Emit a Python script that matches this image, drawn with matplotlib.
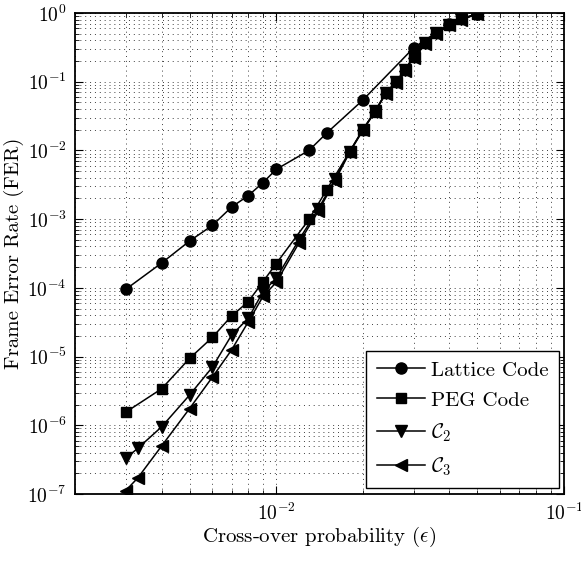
import matplotlib
matplotlib.use("Agg")
import matplotlib.pyplot as plt
from matplotlib.ticker import LogLocator, NullFormatter

plt.rcParams['font.family'] = 'serif'
plt.rcParams['font.serif'] = ['cmr10', 'DejaVu Serif']
plt.rcParams['mathtext.fontset'] = 'cm'
plt.rcParams['axes.formatter.use_mathtext'] = True

# ---- data ----
x_lattice = [3e-3, 4e-3, 5e-3, 6e-3, 7e-3, 8e-3, 9e-3, 1e-2, 1.3e-2, 1.5e-2, 2e-2, 3e-2, 4e-2, 5e-2]
y_lattice = [9.5e-5, 2.3e-4, 4.8e-4, 8.1e-4, 1.5e-3, 2.2e-3, 3.4e-3, 5.3e-3, 1.0e-2, 1.8e-2, 5.4e-2, 3.1e-1, 7.0e-1, 9.7e-1]

x_peg = [3e-3, 4e-3, 5e-3, 6e-3, 7e-3, 8e-3, 9e-3, 1e-2, 1.3e-2, 1.5e-2, 1.8e-2, 2e-2, 2.2e-2,
         2.4e-2, 2.6e-2, 2.8e-2, 3e-2, 3.3e-2, 3.6e-2, 4e-2, 4.4e-2, 5e-2]
y_peg = [1.55e-6, 3.4e-6, 9.4e-6, 1.9e-5, 3.9e-5, 6.3e-5, 1.23e-4, 2.25e-4, 9.9e-4, 2.7e-3, 9.6e-3, 2.0e-2, 3.6e-2,
         6.8e-2, 9.8e-2, 0.148, 0.23, 0.36, 0.51, 0.67, 0.82, 0.97]

x_c2 = [3e-3, 3.3e-3, 4e-3, 5e-3, 6e-3, 7e-3, 8e-3, 9e-3, 1e-2, 1.2e-2, 1.4e-2, 1.6e-2, 1.8e-2, 2e-2, 2.2e-2,
        2.4e-2, 2.6e-2, 2.8e-2, 3e-2, 3.3e-2, 3.6e-2, 4e-2, 4.4e-2, 5e-2]
y_c2 = [3.3e-7, 4.6e-7, 9.5e-7, 2.75e-6, 7.0e-6, 2.05e-5, 3.6e-5, 8.8e-5, 1.37e-4, 5.0e-4, 1.4e-3, 3.8e-3, 9.6e-3, 2.0e-2, 3.7e-2,
        6.8e-2, 9.8e-2, 0.148, 0.23, 0.36, 0.51, 0.67, 0.82, 0.98]

x_c3 = [3e-3, 3.3e-3, 4e-3, 5e-3, 6e-3, 7e-3, 8e-3, 9e-3, 1e-2, 1.2e-2, 1.4e-2, 1.6e-2, 1.8e-2, 2e-2, 2.2e-2,
        2.4e-2, 2.6e-2, 2.8e-2, 3e-2, 3.3e-2, 3.6e-2, 4e-2, 4.4e-2, 5e-2]
y_c3 = [1.12e-7, 1.7e-7, 5.0e-7, 1.75e-6, 5.0e-6, 1.25e-5, 3.2e-5, 7.5e-5, 1.2e-4, 4.5e-4, 1.3e-3, 3.6e-3, 9.4e-3, 1.95e-2, 3.6e-2,
        6.6e-2, 9.6e-2, 0.145, 0.22, 0.35, 0.50, 0.66, 0.80, 0.97]

labels = ['Lattice Code', 'PEG Code', r'$\mathcal{C}_2$', r'$\mathcal{C}_3$']

fig = plt.figure(figsize=(5.81, 5.61), dpi=100)
ax = fig.add_axes([75/581, 1-494/561, (564-75)/581, (494-13)/561])

lw = 1.1
ax.plot(x_lattice, y_lattice, '-o', color='k', lw=lw, ms=8, label=labels[0])
ax.plot(x_peg, y_peg, '-s', color='k', lw=lw, ms=6.5, label=labels[1])
ax.plot(x_c2, y_c2, '-v', color='k', lw=lw, ms=8, label=labels[2])
ax.plot(x_c3, y_c3, '-<', color='k', lw=lw, ms=8, label=labels[3])

ax.set_xscale('log')
ax.set_yscale('log')
ax.set_xlim(2e-3, 1e-1)
ax.set_ylim(1e-7, 1e0)

ax.yaxis.set_major_locator(LogLocator(base=10, numticks=20))
ax.yaxis.set_minor_locator(LogLocator(base=10, subs=range(2, 10), numticks=20))
ax.yaxis.set_minor_formatter(NullFormatter())
ax.xaxis.set_minor_locator(LogLocator(base=10, subs=range(2, 10), numticks=20))
ax.xaxis.set_minor_formatter(NullFormatter())

ax.grid(True, which='both', linestyle=(0, (1, 4)), color='0.25', linewidth=0.7)
ax.tick_params(which='both', direction='in', top=True, right=True, labelsize=14)
ax.tick_params(which='major', length=6, width=0.8, pad=6)
ax.tick_params(which='minor', length=3, width=0.6)
for s in ax.spines.values():
    s.set_linewidth(1.3)

ax.set_xlabel(r'Cross-over probability ($\epsilon$)', fontsize=15, labelpad=1)
ax.set_ylabel('Frame Error Rate (FER)', fontsize=15, labelpad=2)

leg = ax.legend(loc='lower right', bbox_to_anchor=(0.99, 0.0125), borderaxespad=0,
                fontsize=15, fancybox=False, framealpha=1, edgecolor='k',
                handlelength=2.3, labelspacing=0.55, borderpad=0.5, handletextpad=0.3)
leg.get_frame().set_linewidth(1.0)

fig.savefig('out.png', dpi=100)
